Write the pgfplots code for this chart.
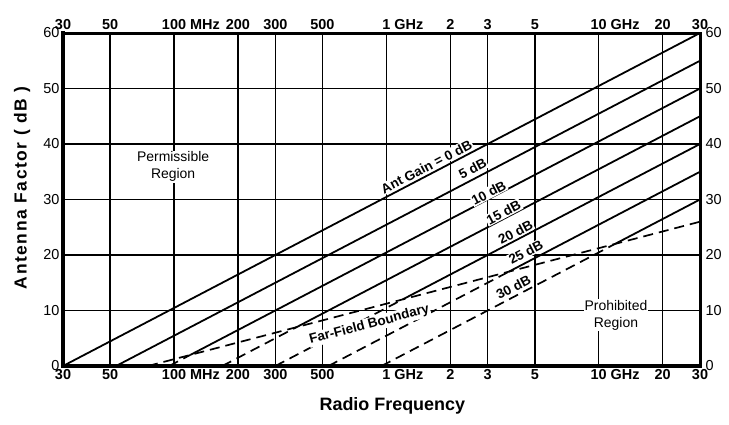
\documentclass[border=0pt]{standalone}
\usepackage{pgfplots}
\pgfplotsset{compat=1.18}
\usepackage{fontspec}
\setmainfont{Liberation Sans}
\newfontfamily\ylabfont[LetterSpace=9]{Liberation Sans}
\newcommand{\tf}{\bfseries\fontsize{14.5}{16}\selectfont}
\newcommand{\tfy}{\fontsize{14.5}{16}\selectfont}
\newcommand{\lblfont}{\bfseries\fontsize{13.5}{15}\selectfont}
\tikzset{
  gainline/.style={black, line width=1.8bp},
  gaindash/.style={black, line width=1.7bp, dash pattern=on 10bp off 6bp},
  gainlbl/.style={font=\lblfont, fill=white, inner sep=1bp},
}
\begin{document}
\begin{tikzpicture}
\path[use as bounding box] (-63bp,-59bp) rectangle (666bp,366bp);
\begin{axis}[
  scale only axis, width=637bp, height=333bp,
  xmode=log, xmin=30, xmax=30000, ymin=0, ymax=60,
  xtick={30,50,100,200,300,500,1000,2000,3000,5000,10000,20000,30000},
  xticklabels={{\tf 30},{\tf 50},{\tf 100\rlap{ MHz}},{\tf 200},{\tf 300},{\tf 500},{\tf 1\rlap{ GHz}},{\tf 2},{\tf 3},{\tf 5},{\tf 10\rlap{ GHz}},{\tf 20},{\tf 30}},
  ytick={0,10,20,30,40,50,60},
  yticklabel={\tfy\pgfmathprintnumber{\tick}},
  xminorticks=false, yminorticks=false,
  major tick length=0pt,
  /pgf/number format/assume math mode=true,
  axis x line*=bottom, axis y line*=left,
  axis line style={line width=4.5bp, line cap=rect},
  grid=major, major grid style={black, line width=1.5bp},
  xlabel={Radio Frequency}, ylabel={Antenna Factor ( dB )},
  xlabel style={font=\bfseries\fontsize{18}{20}\selectfont, at={(axis description cs:0.517,-0.12)}, anchor=center},
  ylabel style={font=\ylabfont\bfseries\fontsize{17.5}{20}\selectfont, at={(axis description cs:-0.064,0.535)}, anchor=center},
]
% solid parts of the gain lines (above far-field boundary)
\addplot[gainline] coordinates {(30,0) (30000,60)};
\addplot[gainline] coordinates {(53.35,0) (30000,55)};
\addplot[gainline] coordinates {(119.4,2.0) (30000,50)};
\addplot[gainline] coordinates {(377.7,7.0) (30000,45)};
\addplot[gainline] coordinates {(1194,12.0) (30000,40)};
\addplot[gainline] coordinates {(3777,17.0) (30000,35)};
\addplot[gainline] coordinates {(11943,22.0) (30000,30)};
% dashed parts (prohibited region)
\addplot[gaindash] coordinates {(94.87,0) (119.4,2.0)};
\addplot[gaindash] coordinates {(168.7,0) (377.7,7.0)};
\addplot[gaindash] coordinates {(300,0) (1194,12.0)};
\addplot[gaindash] coordinates {(533.5,0) (3777,17.0)};
\addplot[gaindash] coordinates {(948.7,0) (11943,22.0)};
% far-field boundary
\addplot[gaindash] coordinates {(75.4,0) (30000,26)};
% labels
\node[gainlbl, rotate=27.6] at (axis cs:1545,35.9) {Ant Gain = 0 dB};
\node[gainlbl, rotate=27.6] at (axis cs:2548,35.5) {5 dB};
\node[gainlbl, rotate=27.6] at (axis cs:3034,31.2) {10 dB};
\node[gainlbl, rotate=27.6] at (axis cs:3565,27.7) {15 dB};
\node[gainlbl, rotate=27.6] at (axis cs:4056,24.1) {20 dB};
\node[gainlbl, rotate=27.6] at (axis cs:4536,20.5) {25 dB};
\node[gainlbl, rotate=27.6] at (axis cs:3970,14.2) {30 dB};
\node[gainlbl, rotate=14.7] at (axis cs:832,7.4) {Far-Field Boundary};
\node[fill=white, inner sep=1bp, align=center, font=\fontsize{14}{17}\selectfont] at (axis cs:99,35.9) {Permissible\\Region};
\node[fill=white, inner sep=1bp, align=center, font=\fontsize{14}{17}\selectfont] at (axis cs:12060,9.2) {Prohibited\\Region};
\end{axis}
\begin{axis}[
  scale only axis, width=637bp, height=333bp,
  xmode=log, xmin=30, xmax=30000, ymin=0, ymax=60,
  xtick={30,50,100,200,300,500,1000,2000,3000,5000,10000,20000,30000},
  xticklabels={{\tf 30},{\tf 50},{\tf 100\rlap{ MHz}},{\tf 200},{\tf 300},{\tf 500},{\tf 1\rlap{ GHz}},{\tf 2},{\tf 3},{\tf 5},{\tf 10\rlap{ GHz}},{\tf 20},{\tf 30}},
  ytick={0,10,20,30,40,50,60},
  yticklabel={\tfy\pgfmathprintnumber{\tick}},
  yticklabel style={xshift=2bp},
  xminorticks=false, yminorticks=false,
  major tick length=0pt,
  /pgf/number format/assume math mode=true,
  axis x line*=top, axis y line*=right,
  axis line style={line width=3bp, line cap=rect},
]
\end{axis}
\end{tikzpicture}
\end{document}
